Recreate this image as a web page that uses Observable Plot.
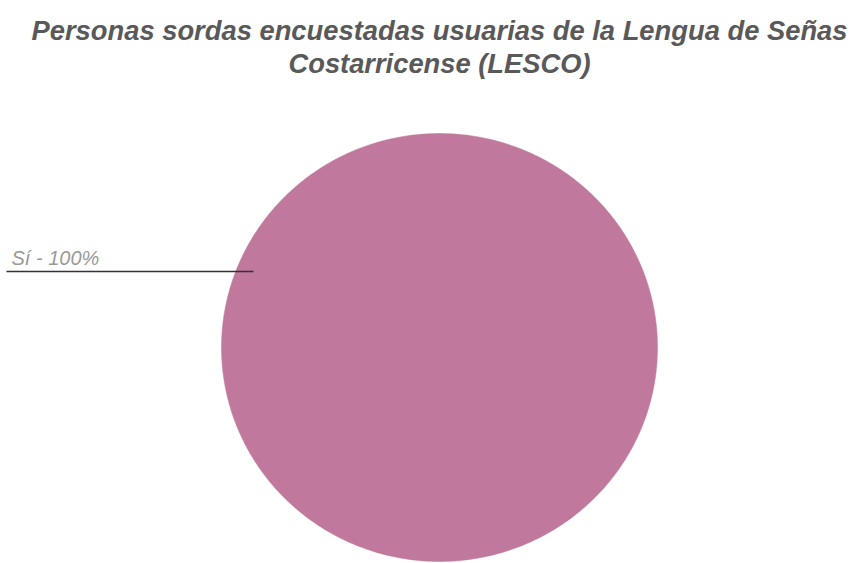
<!DOCTYPE html>
<html>
<head>
<meta charset="utf-8">
<script src="https://cdn.jsdelivr.net/npm/d3@7"></script>
<script src="https://cdn.jsdelivr.net/npm/@observablehq/plot@0.6"></script>
<style>
  html, body { margin: 0; padding: 0; background: #fff; }
  svg { display: block; }
</style>
</head>
<body>
<div id="chart"></div>
<script>
// ---- data ----
const categories = ["Sí"];
const values = [100];
const colors = ["#c1789d"];
const titleLines = [
  "Personas sordas encuestadas usuarias de la Lengua de Señas",
  "Costarricense (LESCO)"
];

// ---- layout ----
const W = 859, H = 563;
const cx = 439, cy = 347, rx = 218, ry = 214;
const titleWidths = [816, 302];

const total = d3.sum(values);
const arcs = d3.pie().sort(null)(values);

// polygon points of each slice, in unit-radius coordinates
const slicePts = [];
arcs.forEach((a, i) => {
  const full = a.endAngle - a.startAngle >= 2 * Math.PI - 1e-9;
  const n = 360;
  if (!full) slicePts.push({k: i, x: 0, y: 0});
  for (let j = 0; j <= n; j++) {
    const ang = a.startAngle + (a.endAngle - a.startAngle) * j / n;
    slicePts.push({k: i, x: Math.sin(ang), y: Math.cos(ang)});
  }
});

const labels = categories.map((c, i) => ({
  text: `${c} - ${Math.round(values[i] / total * 100)}%`
}));

const ux = px => (px - cx) / rx;
const uy = py => (cy - py) / ry;

const chart = Plot.plot({
  width: W,
  height: H,
  margin: 0,
  x: {domain: [-1, 1], range: [cx - rx, cx + rx], axis: null},
  y: {domain: [-1, 1], range: [cy + ry, cy - ry], axis: null},
  style: {background: "#fff"},
  marks: [
    Plot.line(slicePts, {
      x: "x", y: "y", z: "k",
      fill: d => colors[d.k], stroke: d => colors[d.k], strokeWidth: 0.5,
      curve: "linear"
    }),
    Plot.link(labels, {
      x1: () => ux(6), y1: () => uy(271),
      x2: () => ux(253), y2: () => uy(271),
      stroke: "#333", strokeWidth: 1.6
    }),
    Plot.text(labels, {
      x: () => ux(11), y: () => uy(264),
      text: "text", textAnchor: "start", lineAnchor: "bottom",
      fill: "#999999", fontSize: 20, fontStyle: "italic",
      fontFamily: "Liberation Sans, Arial, sans-serif"
    }),
    Plot.text(titleLines, {
      x: () => ux(439), y: (d, i) => uy(39 + i * 33),
      text: d => d, textAnchor: "middle", lineAnchor: "bottom",
      fill: "#595959", fontSize: 27, fontWeight: "bold", fontStyle: "italic",
      fontFamily: "Liberation Sans, Arial, sans-serif"
    })
  ]
});

// fit title lines to the reference widths
d3.select(chart).selectAll("text").each(function() {
  const i = titleLines.indexOf(this.textContent);
  if (i >= 0) {
    this.setAttribute("textLength", titleWidths[i]);
    this.setAttribute("lengthAdjust", "spacingAndGlyphs");
  }
});

document.getElementById("chart").appendChild(chart);
</script>
</body>
</html>
